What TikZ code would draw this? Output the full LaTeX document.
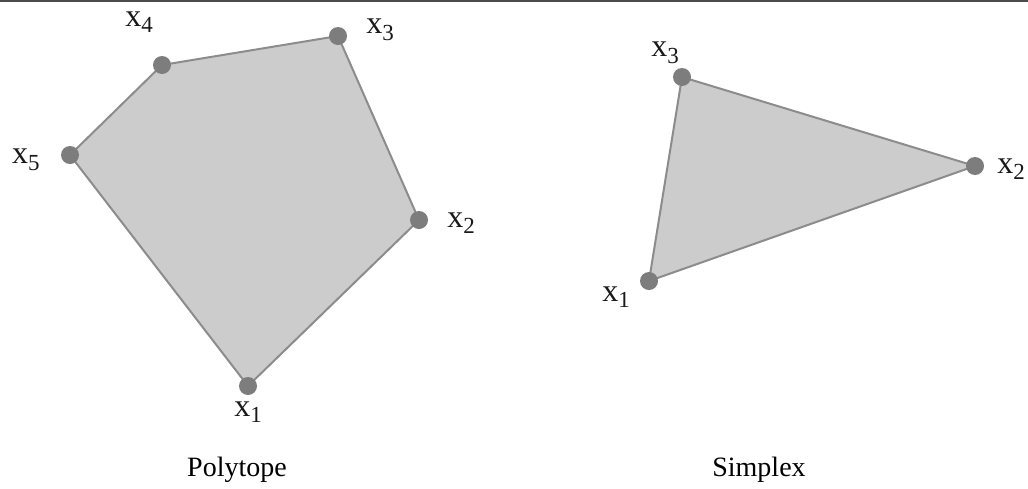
\documentclass[tikz,border=0pt]{standalone}
\usepackage{fontspec}
\setmainfont{Liberation Serif}
\definecolor{facefill}{RGB}{204,204,204}
\definecolor{edgecol}{RGB}{140,140,140}
\definecolor{dotcol}{RGB}{125,125,125}
\newcommand\vlab[1]{x\raisebox{-0.45ex}{\fontsize{11.5}{12}\selectfont #1}}
\begin{document}
\begin{tikzpicture}[x=0.5pt,y=-0.5pt,
  vtx/.style={circle,fill=dotcol,inner sep=0pt,minimum size=9pt},
  lbl/.style={font=\fontsize{16}{18}\selectfont,inner sep=0pt,text=black!90},
  captxt/.style={font=\fontsize{14}{16}\selectfont,inner sep=0pt},
  face/.style={fill=facefill,draw=edgecol,line width=1pt,line join=round}]
\useasboundingbox (0,0) rectangle (1028,488);
\fill[white] (0,0) rectangle (1028,488);
\draw[black!70,line width=1pt] (0,1) -- (1028,1);
% Polytope
\coordinate (p1) at (248,386);
\coordinate (p2) at (419,220);
\coordinate (p3) at (338,36);
\coordinate (p4) at (162,65);
\coordinate (p5) at (70,155);
\draw[face] (p1) -- (p2) -- (p3) -- (p4) -- (p5) -- cycle;
\foreach \i in {1,...,5} \node[vtx] (pv\i) at (p\i) {};
\node[lbl] (lp1) at (248,412) {\vlab{1}};
\node[lbl] (lp2) at (461,223) {\vlab{2}};
\node[lbl] (lp3) at (380,30) {\vlab{3}};
\node[lbl] (lp4) at (139,22) {\vlab{4}};
\node[lbl] (lp5) at (26,160) {\vlab{5}};
\node[captxt] (cp) at (237,470) {Polytope};
% Simplex
\coordinate (s1) at (649,281);
\coordinate (s2) at (975,166);
\coordinate (s3) at (682,77);
\draw[face] (s1) -- (s2) -- (s3) -- cycle;
\foreach \i in {1,2,3} \node[vtx] (sv\i) at (s\i) {};
\node[lbl] (ls1) at (616,297) {\vlab{1}};
\node[lbl] (ls2) at (1011,169) {\vlab{2}};
\node[lbl] (ls3) at (665,53) {\vlab{3}};
\node[captxt] (cs) at (759,470) {Simplex};
\end{tikzpicture}
\end{document}
